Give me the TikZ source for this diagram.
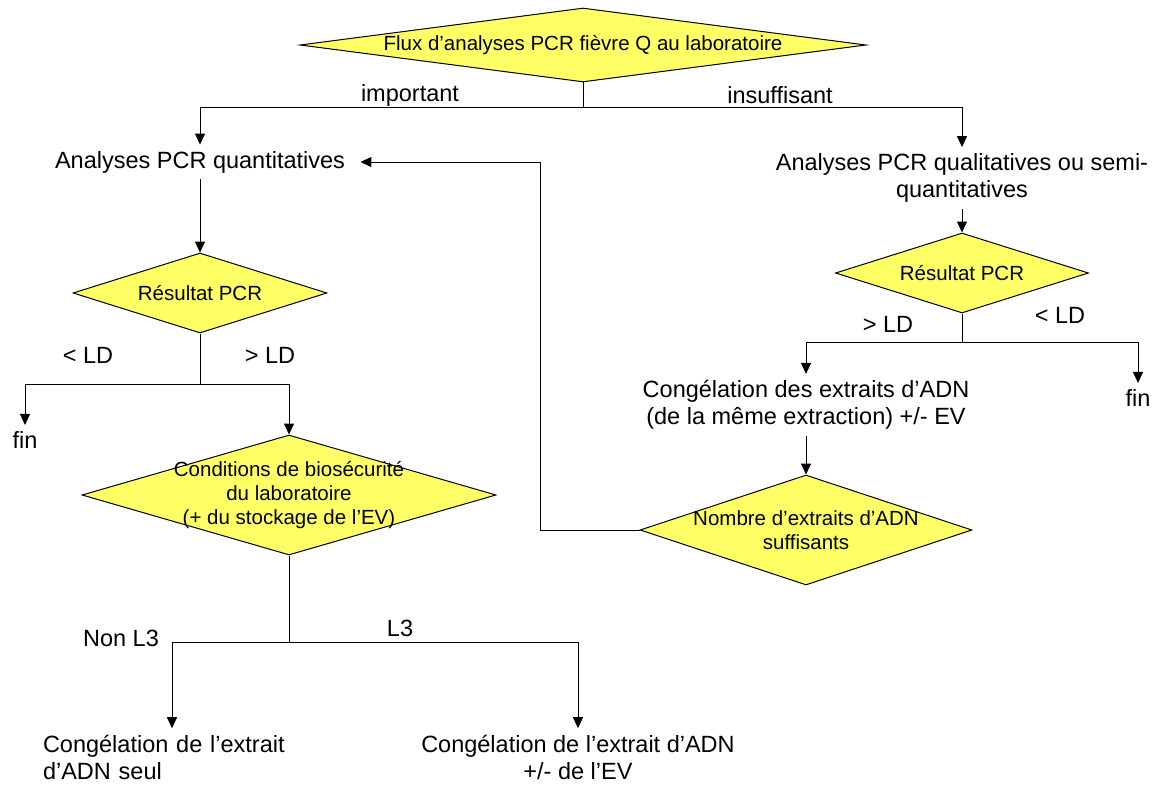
\documentclass[tikz,border=0pt]{standalone}
\usepackage{fontspec}
\setmainfont{Liberation Sans}
\usetikzlibrary{shapes.geometric,arrows.meta}
\definecolor{decisionyellow}{RGB}{255,255,102}

\begin{document}
\begin{tikzpicture}[x=1pt,y=-1pt,line width=1pt,
  decision/.style={diamond,draw,fill=decisionyellow,inner sep=0pt},
  dtext/.style={font=\fontsize{20.5}{24}\selectfont,align=center,inner sep=0pt},
  txt/.style={font=\fontsize{23.5}{27}\selectfont,align=center,inner sep=6pt},
  lbl/.style={font=\fontsize{23.5}{27}\selectfont,inner sep=0pt},
  arr/.style={-{Triangle[length=11pt,width=10pt]}}]
 \useasboundingbox (0,0) rectangle (1155,789);
 \node[decision,minimum width=566pt,minimum height=74pt,label={[dtext]center:Flux d’analyses PCR fièvre Q au laboratoire}] (flux) at (583,45) {};
 \node[txt] (quant) at (200,162) {Analyses PCR quantitatives};
 \node[txt] (qual) at (962,178) {Analyses PCR qualitatives ou semi-\\quantitatives};
 \node[decision,minimum width=254pt,minimum height=80pt,label={[dtext]center:Résultat PCR}] (res1) at (200,293) {};
 \node[decision,minimum width=253pt,minimum height=80pt,label={[dtext]center:Résultat PCR}] (res2) at (962,273) {};
 \node[txt] (fin1) at (25,440) {fin};
 \node[decision,minimum width=414pt,minimum height=120pt,label={[dtext]center:Conditions de biosécurité\\du laboratoire\\(+ du stockage de l’EV)}] (cond) at (289,495) {};
 \node[txt] (congl) at (806,405) {Congélation des extraits d’ADN\\(de la même extraction) +/- EV};
 \node[txt] (fin2) at (1138,398) {fin};
 \node[decision,minimum width=332pt,minimum height=110pt,label={[dtext]center:Nombre d’extraits d’ADN\\suffisants}] (nombre) at (806,530) {};
 \node[txt,text width=258pt,align=left] (frz1) at (172,757) {Congélation de l’extrait\\d’ADN seul};
 \node[txt] (frz2) at (578,757) {Congélation de l’extrait d’ADN\\+/- de l’EV};
 \node[lbl] (important) at (410,95) {important};
 \node[lbl] (insuffisant) at (780,95) {insuffisant};
 \node[lbl] (ltld1) at (88,355) {< LD};
 \node[lbl] (gtld1) at (270,355) {> LD};
 \node[lbl] (gtld2) at (888,324) {> LD};
 \node[lbl] (ltld2) at (1060,315) {< LD};
 \node[lbl] (nonl3) at (121,638) {Non L3};
 \node[lbl] (l3) at (400,628) {L3};
 \coordinate (fluxjoin) at (583,108);
 \coordinate (res1join) at (200,384);
 \coordinate (res2join) at (962,342);
 \coordinate (condjoin) at (289,642);
 \coordinate (loopcorner) at (540,530);
 \draw (flux.south) -- (fluxjoin);
 \draw[arr] (fluxjoin) -| (quant.north);
 \draw[arr] (fluxjoin) -| (qual.north);
 \draw[arr] (quant.south) -- (res1.north);
 \draw (res1.south) -- (res1join);
 \draw[arr] (res1join) -| (fin1.north);
 \draw[arr] (res1join) -| (cond.north);
 \draw (cond.south) -- (condjoin);
 \draw[arr] (condjoin) -| (frz1.north);
 \draw[arr] (condjoin) -| (frz2.north);
 \draw[arr] (qual.south) -- (res2.north);
 \draw (res2.south) -- (res2join);
 \draw[arr] (res2join) -| (congl.north);
 \draw[arr] (res2join) -| (fin2.north);
 \draw[arr] (congl.south) -- (nombre.north);
 \draw[arr] (nombre.west) -- (loopcorner) |- ([xshift=9pt]quant.east);
\end{tikzpicture}
\end{document}
